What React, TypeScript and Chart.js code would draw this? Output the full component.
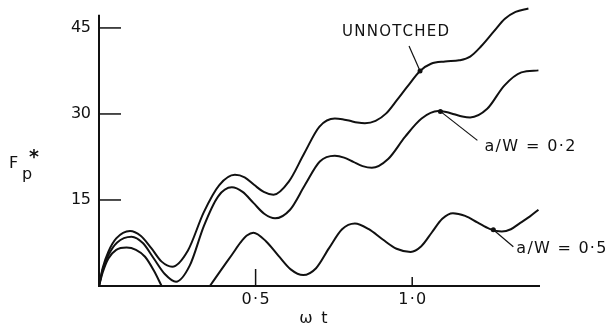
import React, { useEffect, useRef } from "react";
import { Chart, registerables } from "chart.js";

Chart.register(...registerables);

// ---- data ----
const unnotchedX = [0, 0.012, 0.03, 0.055, 0.099, 0.133, 0.167, 0.2, 0.234, 0.284, 0.334, 0.384, 0.434, 0.465, 0.496, 0.526, 0.557, 0.606, 0.655, 0.704, 0.753, 0.777, 0.801, 0.825, 0.849, 0.883, 0.917, 0.951, 0.985, 1.025, 1.06, 1.105, 1.15, 1.185, 1.22, 1.26, 1.296, 1.33, 1.371];
const unnotchedY = [0, 3.2, 6.0, 8.3, 9.6, 8.75, 6.6, 4.25, 3.37, 6.2, 12.8, 17.6, 19.4, 18.95, 17.6, 16.4, 15.9, 18.2, 23.1, 27.8, 29.2, 29.08, 28.8, 28.52, 28.4, 28.8, 30.1, 32.4, 34.8, 37.5, 38.75, 39.15, 39.35, 40.0, 41.8, 44.35, 46.6, 47.8, 48.4];

const aw02X = [0, 0.012, 0.03, 0.058, 0.104, 0.14, 0.175, 0.21, 0.246, 0.29, 0.335, 0.38, 0.424, 0.4585, 0.493, 0.5275, 0.562, 0.61, 0.6575, 0.705, 0.753, 0.7825, 0.812, 0.8415, 0.871, 0.924, 0.977, 1.03, 1.083, 1.1085, 1.134, 1.16, 1.185, 1.2395, 1.294, 1.3485, 1.403];
const aw02Y = [0, 2.9, 5.4, 7.6, 8.6, 7.5, 4.8, 2.1, 0.75, 3.6, 10.5, 15.6, 17.2, 16.41, 14.5, 12.59, 11.8, 13.3, 17.6, 21.7, 22.7, 22.39, 21.65, 20.9, 20.6, 22.2, 26.0, 29.2, 30.5, 30.34, 29.95, 29.56, 29.4, 30.9, 34.95, 37.25, 37.6];

// a/W = 0.5 (two pieces: the curve sits on the axis between them)
const aw05aX = [0, 0.012, 0.03, 0.055, 0.088, 0.118, 0.147, 0.175, 0.2];
const aw05aY = [0, 2.4, 4.8, 6.3, 6.7, 6.3, 5.1, 2.7, 0];
const aw05bX = [0.354, 0.39, 0.425, 0.452, 0.472, 0.493, 0.533, 0.5725, 0.612, 0.652, 0.693, 0.7345, 0.776, 0.817, 0.8615, 0.906, 0.95, 0.995, 1.029, 1.0625, 1.096, 1.13, 1.169, 1.208, 1.247, 1.286, 1.315, 1.345, 1.375, 1.403];
const aw05bY = [0, 2.8, 5.5, 7.6, 8.8, 9.3, 7.8, 5.3, 2.9, 1.9, 3.1, 6.6, 9.9, 10.9, 9.9, 8.1, 6.5, 5.95, 6.94, 9.33, 11.71, 12.7, 12.23, 11.1, 9.97, 9.5, 9.9, 11.0, 12.1, 13.3];

const yTicks = [15, 30, 45];
const yTickLabels = ["15", "30", "45"];
const xTicks = [0.5, 1.0];
const xTickLabels = ["0·5", "1·0"];

const seriesLabels = ["UNNOTCHED", "a/W = 0·2", "a/W = 0·5"];
const markerX = [1.025, 1.09, 1.259];
const markerY = [37.5, 30.45, 9.8];

const X_MAX = 1.408;
const Y_MAX = 49;
const Y_AXIS_TOP = 47.3;

const INK = "#111";
const FONT = "DejaVu Sans";

function pts(xs: number[], ys: number[]) {
  return xs.map((x, i) => ({ x, y: ys[i] }));
}

function drawSpaced(ctx: CanvasRenderingContext2D, text: string, left: number, cy: number, width: number) {
  const chars = Array.from(text);
  const widths = chars.map((c) => ctx.measureText(c).width);
  const total = widths.reduce((a, b) => a + b, 0);
  const gap = chars.length > 1 ? (width - total) / (chars.length - 1) : 0;
  let x = left;
  ctx.textAlign = "left";
  ctx.textBaseline = "middle";
  chars.forEach((c, i) => {
    ctx.fillText(c, x, cy);
    x += widths[i] + gap;
  });
}

const decorPlugin = {
  id: "decor",
  afterDraw(chart: any) {
    const ctx: CanvasRenderingContext2D = chart.ctx;
    const xs = chart.scales.x;
    const ys = chart.scales.y;
    const x0 = xs.getPixelForValue(0);
    const y0 = ys.getPixelForValue(0);
    ctx.save();
    ctx.strokeStyle = INK;
    ctx.fillStyle = INK;
    ctx.lineWidth = 2;
    ctx.lineCap = "butt";
    // axes
    ctx.beginPath();
    ctx.moveTo(x0, ys.getPixelForValue(Y_AXIS_TOP));
    ctx.lineTo(x0, y0);
    ctx.lineTo(xs.getPixelForValue(X_MAX), y0);
    ctx.stroke();
    // y ticks (inward)
    ctx.lineWidth = 1.5;
    yTicks.forEach((t) => {
      const py = ys.getPixelForValue(t);
      ctx.beginPath();
      ctx.moveTo(x0, py);
      ctx.lineTo(x0 + 22, py);
      ctx.stroke();
    });
    // x ticks (inward)
    const xLen = [17, 9];
    xTicks.forEach((t, i) => {
      const px = xs.getPixelForValue(t);
      ctx.beginPath();
      ctx.moveTo(px, y0);
      ctx.lineTo(px, y0 - xLen[i]);
      ctx.stroke();
    });
    // tick labels
    ctx.font = `16px "${FONT}"`;
    yTicks.forEach((t, i) => {
      const py = ys.getPixelForValue(t);
      drawSpaced(ctx, yTickLabels[i], x0 - 28, py, 20);
    });
    xTicks.forEach((t, i) => {
      const px = xs.getPixelForValue(t);
      drawSpaced(ctx, xTickLabels[i], px - 14, y0 + 14, 28);
    });
    // axis titles
    ctx.textAlign = "left";
    ctx.textBaseline = "alphabetic";
    ctx.font = `16px "${FONT}"`;
    const cy = (ys.getPixelForValue(0) + ys.getPixelForValue(Y_AXIS_TOP)) / 2;
    ctx.fillText("F", 9, cy + 18);
    ctx.fillText("p", 22, cy + 29);
    ctx.font = `bold 19px "${FONT}"`;
    ctx.fillText("*", 29, cy + 13);
    ctx.font = `16px "${FONT}"`;
    const midX = xs.getPixelForValue(0.7);
    ctx.fillText("ω", midX - 19, y0 + 37);
    ctx.fillText("t", midX + 3, y0 + 37);
    // annotations: dots, leaders, labels
    const mk = markerX.map((mx, i) => ({ px: xs.getPixelForValue(mx), py: ys.getPixelForValue(markerY[i]) }));
    mk.forEach((m) => {
      ctx.beginPath();
      ctx.arc(m.px, m.py, 2.5, 0, Math.PI * 2);
      ctx.fill();
    });
    ctx.lineWidth = 1.2;
    const leaders = [[-11, -25], [37, 29], [20, 17]];
    mk.forEach((m, i) => {
      ctx.beginPath();
      ctx.moveTo(m.px, m.py);
      ctx.lineTo(m.px + leaders[i][0], m.py + leaders[i][1]);
      ctx.stroke();
    });
    ctx.font = `15px "${FONT}"`;
    drawSpaced(ctx, seriesLabels[0], mk[0].px - 78, mk[0].py - 39, 107);
    ctx.font = `16px "${FONT}"`;
    drawSpaced(ctx, seriesLabels[1], mk[1].px + 44, mk[1].py + 35, 91);
    drawSpaced(ctx, seriesLabels[2], mk[2].px + 23, mk[2].py + 19, 90);
    ctx.restore();
  },
};

export default function App() {
  const ref = useRef<HTMLCanvasElement | null>(null);
  useEffect(() => {
    if (!ref.current) return;
    const ds = (data: any) => ({
      data,
      borderColor: INK,
      borderWidth: 2,
      pointRadius: 0,
      fill: false,
      cubicInterpolationMode: "monotone" as const,
      clip: false as any,
    });
    const chart = new Chart(ref.current, {
      type: "line",
      data: {
        datasets: [
          ds(pts(unnotchedX, unnotchedY)),
          ds(pts(aw02X, aw02Y)),
          ds(pts(aw05aX, aw05aY)),
          ds(pts(aw05bX, aw05bY)),
        ],
      },
      options: {
        responsive: false,
        animation: false,
        devicePixelRatio: 1,
        layout: { padding: { left: 99, right: 70, top: 5, bottom: 41 } },
        plugins: { legend: { display: false }, tooltip: { enabled: false } },
        scales: {
          x: { type: "linear", min: 0, max: X_MAX, display: false },
          y: { type: "linear", min: 0, max: Y_MAX, display: false },
        },
      },
      plugins: [decorPlugin],
    });
    return () => chart.destroy();
  }, []);
  return (
    <div style={{ position: "absolute", left: 0, top: 0, width: 610, height: 327, background: "#fff" }}>
      <canvas ref={ref} width={610} height={327} style={{ display: "block" }} />
    </div>
  );
}
